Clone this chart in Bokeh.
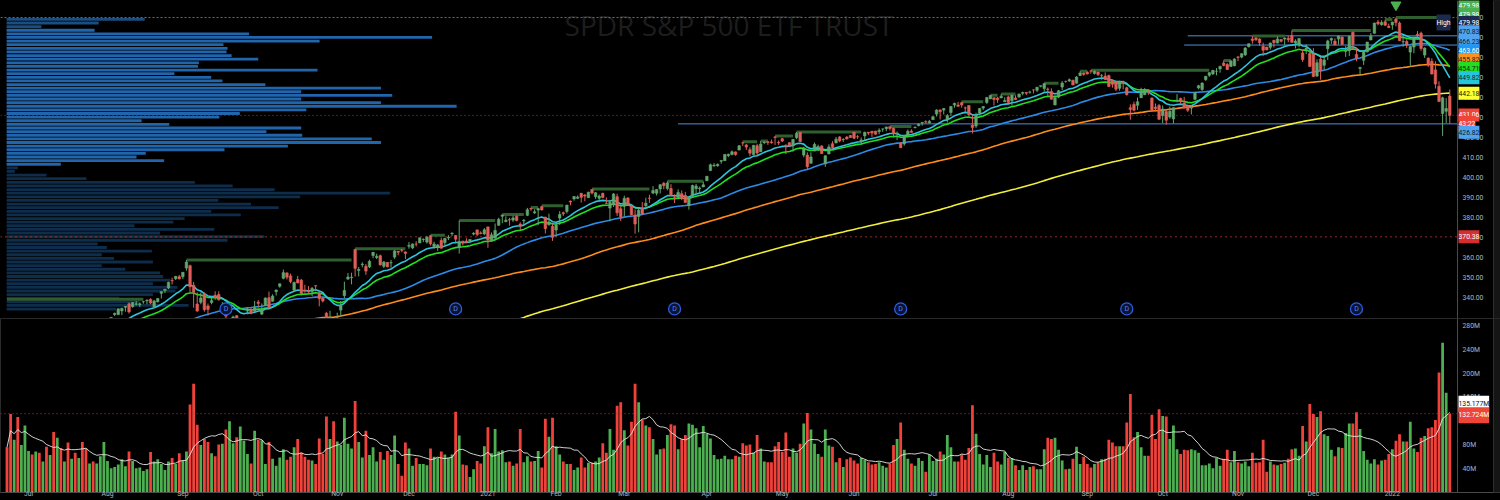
import numpy as np
import pandas as pd
from bokeh.plotting import figure
from bokeh.layouts import column
from bokeh.models import Range1d, FixedTicker, Label, Span, BoxAnnotation
from bokeh.core.properties import value
from bokeh.embed import file_html
from bokeh.resources import INLINE

# ---------------- DATA ----------------
title = "SPDR S&P 500 ETF TRUST"
first_day = "2020-06-23"
last_day = "2022-01-26"
holidays = ["2020-07-03", "2020-09-07", "2020-11-26", "2020-12-25", "2021-01-01", "2021-01-18",
            "2021-02-15", "2021-04-02", "2021-05-31", "2021-07-05", "2021-09-06", "2021-11-25",
            "2021-12-24", "2022-01-17"]
month_labels = ["Jul", "Aug", "Sep", "Oct", "Nov", "Dec", "2021", "Feb", "Mar", "Apr", "May", "Jun",
                "Jul", "Aug", "Sep", "Oct", "Nov", "Dec", "2022"]

# closes before the visible window (Apr 1 - Jun 22 2020), used only to warm up the averages
hist_closes = [246.2, 251.8, 248.2, 264.9, 265.1, 274.0, 278.2, 275.7, 283.8, 277.8, 279.1, 286.6, 281.6, 273.0, 279.1, 279.1, 283.0, 287.1, 285.7, 293.2, 290.5,
               282.8, 283.6, 286.2, 284.3, 287.7, 292.4, 292.5, 286.7, 281.6, 285.0, 286.3, 295.0, 292.0, 296.9, 294.9, 295.4, 299.1, 303.5, 303.0, 304.3,
               305.6, 308.4, 312.2, 311.4, 319.3, 323.2, 320.8, 319.0, 300.6, 304.2, 307.1, 313.0, 311.7, 311.8, 308.6, 310.6]
prior_ath = 339.08

opens = [313.5, 309.8, 303.5, 306.2, 301.4, 304.0,
 309.6, 314.2, 316.4, 315.4, 314.6, 316.8, 314.3, 320.1, 313.3, 322.4, 319.8, 321.9, 321.4, 326.4, 324.6, 326.5, 320.9, 321.6, 322.4, 322.1, 321.9, 325.9,
 328.3, 327.9, 331.5, 331.5, 333.3, 335.1, 336.9, 335.4, 336.6, 336.4, 337.9, 338.3, 339.1, 335.4, 337.9, 342.1, 343.5, 344.8, 348.5, 349.4, 350.4,
 350.4, 354.7, 355.9, 346.1, 336.7, 337.6, 341.8, 335.8, 337.5, 341.1, 341.5, 333.6, 335.4, 325.7, 328.6, 330.9, 321.2, 322.6, 333.2, 334.0, 333.1,
 337.7, 331.7, 336.1, 339.9, 338.1, 342.9, 345.6, 349.6, 352.3, 350.8, 343.7, 349.0, 348.7, 343.5, 343.3, 343.0, 345.9, 342.1, 339.8, 332.1, 326.9, 328.3,
 330.2, 333.7, 340.9, 349.2, 349.9, 364.0, 353.5, 356.4, 355.6, 355.3, 361.0, 360.0, 360.9, 355.6, 357.5, 357.3, 360.2, 363.1, 363.8, 362.8,
 365.6, 364.8, 366.7, 367.3, 369.0, 367.7, 370.9, 365.4, 364.9, 368.6, 367.4, 369.8, 371.9, 371.0, 365.0, 368.2, 368.3, 368.1, 371.7, 373.8, 372.3, 371.8,
 375.3, 368.1, 369.7, 376.1, 380.6, 377.9, 378.9, 378.7, 380.6, 376.7, 378.3, 381.1, 384.5, 382.3, 383.7, 385.4, 380.2, 376.4, 375.6,
 373.7, 379.7, 382.4, 383.0, 388.2, 389.3, 389.6, 392.1, 391.2, 389.9, 394.0, 390.4, 389.6, 392.1, 387.1, 384.7, 386.3, 390.4, 384.4,
 385.6, 389.8, 385.8, 381.2, 380.5, 384.7, 385.9, 389.7, 392.2, 392.1, 394.3, 397.1, 394.5, 394.5, 389.9, 390.0, 391.9, 391.0, 386.0, 390.9, 394.4, 394.4, 395.3,
 398.4, 403.5, 405.8, 405.9, 408.1, 408.4, 410.9, 411.5, 412.8, 413.7, 417.3, 416.3, 413.9, 411.5, 415.9, 412.9, 417.4, 417.9, 417.8, 420.3, 417.6,
 419.4, 416.1, 417.4, 415.8, 419.9, 422.5, 411.2, 411.2, 407.1, 413.2, 415.4, 415.8, 406.9, 411.8, 416.9, 417.3, 420.3, 418.9, 420.2, 421.0,
 422.6, 420.4, 417.9, 420.8, 422.6, 423.1, 423.2, 423.0, 424.2, 424.4, 425.4, 424.6, 421.7, 417.1, 416.8, 420.9, 423.2, 424.9, 425.9, 427.2, 427.9, 427.2,
 428.9, 431.7, 433.8, 433.7, 428.8, 432.5, 436.2, 436.2, 437.4, 434.8, 436.0, 426.2, 425.7, 432.3, 434.7, 437.5, 439.3, 439.9, 439.7, 439.8, 437.9,
 440.3, 438.4, 439.8, 440.2, 442.1, 442.5, 442.6, 443.8, 443.6, 445.6, 444.5, 444.2, 443.0, 436.3, 440.2, 445.2, 448.0, 448.2, 448.6, 447.1, 451.0, 452.1,
 452.6, 453.3, 452.0, 452.7, 450.9, 450.7, 451.0, 448.6, 448.1, 444.6, 447.3, 444.9, 434.9, 436.5, 436.1, 439.9, 441.4, 442.8, 439.7, 435.2, 436.0,
 431.0, 433.0, 430.2, 429.3, 438.4, 439.5, 437.2, 435.7, 434.7, 439.1, 444.8, 444.0, 448.9, 451.1, 451.8, 453.1, 454.3, 457.2, 456.5, 455.5, 455.9,
 460.3, 460.2, 461.3, 465.4, 469.3, 469.7, 469.3, 465.6, 465.2, 465.1, 468.6, 467.2, 469.0, 469.2, 469.6, 470.9, 467.2, 466.1, 462.3, 464.1, 462.0,
 461.6, 450.7, 459.2, 456.1, 464.4, 468.7, 468.2, 469.2, 470.2, 463.1, 463.4, 472.6, 461.5, 454.5, 458.6, 462.8, 468.8, 472.1, 477.7, 476.4, 477.9, 475.6,
 476.3, 479.2, 477.2, 467.9, 468.0, 462.7, 465.2, 471.6, 472.2, 461.2, 459.7, 458.1, 453.8, 445.6, 432.0, 433.1, 440.7]

highs = [314.5, 311.0, 307.6, 306.4, 304.6, 310.2,
 311.9, 315.7, 317.7, 317.1, 316.5, 317.1, 317.9, 322.7, 319.8, 323.0, 321.3, 322.6, 325.1, 326.9, 327.2, 327.2, 321.9, 323.4, 323.6, 325.7, 324.4, 326.6,
 329.6, 330.1, 332.4, 334.5, 334.9, 335.8, 337.5, 337.7, 338.3, 337.4, 338.3, 339.1, 339.6, 338.8, 339.7, 343.0, 344.2, 347.9, 349.9, 350.7, 351.3,
 352.7, 358.75, 356.4, 347.8, 342.6, 342.5, 342.5, 337.0, 340.4, 343.1, 343.1, 337.7, 335.5, 327.1, 330.9, 331.2, 326.8, 329.6, 335.0, 334.8, 338.3,
 338.7, 337.0, 340.0, 343.0, 341.6, 343.9, 347.0, 354.0, 352.5, 351.9, 348.0, 350.8, 349.3, 346.4, 345.7, 345.2, 346.0, 343.0, 340.1, 332.8, 333.4, 329.7,
 332.4, 338.3, 347.9, 352.2, 352.4, 364.4, 355.2, 357.6, 356.7, 358.9, 362.8, 361.9, 361.5, 358.2, 357.7, 358.8, 363.8, 363.2, 364.2, 363.1,
 367.7, 367.0, 368.2, 369.9, 369.6, 370.8, 371.1, 367.9, 366.7, 369.8, 369.6, 371.2, 372.5, 371.2, 378.5, 368.3, 369.6, 369.0, 372.6, 374.0, 373.1, 374.7,
 375.5, 372.5, 377.0, 379.9, 381.5, 380.6, 379.9, 380.9, 381.1, 377.6, 379.2, 384.8, 385.0, 384.1, 384.8, 385.9, 380.3, 381.9, 376.7,
 377.3, 383.2, 382.9, 386.2, 388.5, 390.6, 391.0, 392.3, 391.7, 392.9, 394.2, 392.7, 391.5, 392.4, 390.1, 388.8, 392.2, 391.9, 385.6,
 390.9, 390.1, 386.8, 384.0, 384.8, 387.7, 389.9, 391.4, 395.7, 394.2, 396.7, 397.8, 398.1, 396.7, 391.6, 394.1, 393.5, 392.8, 390.5, 396.4, 396.8, 395.5, 398.0,
 400.7, 406.9, 407.2, 407.0, 408.6, 411.7, 411.9, 413.5, 413.0, 416.2, 417.9, 416.7, 415.1, 416.3, 416.8, 418.3, 418.2, 418.1, 419.0, 420.7, 418.5,
 419.8, 416.6, 417.6, 419.2, 422.8, 422.7, 415.3, 412.6, 412.6, 417.5, 416.4, 416.1, 411.1, 416.6, 418.2, 420.3, 420.7, 419.6, 420.7, 421.3,
 422.7, 421.2, 420.0, 422.9, 422.8, 423.2, 423.3, 424.6, 424.4, 425.4, 425.5, 424.9, 423.0, 417.8, 421.1, 424.0, 424.1, 425.6, 427.1, 427.7, 428.6, 428.8,
 430.6, 434.1, 434.0, 434.8, 431.7, 435.8, 437.4, 437.8, 437.9, 435.5, 436.1, 431.4, 432.4, 434.7, 435.7, 440.3, 441.1, 439.9, 440.3, 441.8, 440.1,
 440.9, 441.3, 441.1, 441.9, 442.9, 442.8, 443.4, 443.9, 445.3, 445.9, 447.1, 445.0, 444.6, 441.1, 443.7, 448.2, 448.5, 449.5, 448.9, 450.7, 453.1, 452.5,
 453.1, 453.6, 453.6, 452.8, 451.7, 452.6, 451.4, 448.9, 448.3, 448.4, 448.4, 445.4, 436.6, 437.9, 440.0, 444.9, 444.7, 444.1, 440.0, 437.0, 436.8,
 436.0, 434.0, 435.5, 435.1, 441.7, 439.9, 440.3, 436.1, 436.1, 442.7, 446.3, 447.6, 450.7, 452.7, 453.8, 454.7, 455.9, 458.5, 457.2, 458.4, 459.6,
 460.7, 462.2, 465.2, 467.0, 470.7, 470.2, 469.6, 467.4, 465.3, 467.4, 468.8, 470.5, 469.2, 470.0, 470.9, 473.5, 469.1, 469.6, 463.9, 466.6, 464.0,
 464.7, 459.1, 460.3, 460.8, 468.9, 470.0, 469.6, 470.9, 470.6, 465.7, 470.9, 472.9, 464.7, 455.4, 463.2, 467.8, 472.2, 477.3, 478.8, 478.6, 479.0, 476.9,
 477.9, 479.98, 478.0, 470.8, 469.2, 465.7, 469.9, 473.2, 472.9, 465.1, 460.0, 459.6, 458.1, 448.1, 440.4, 439.7, 444.0]

lows = [311.6, 302.7, 301.0, 299.4, 298.9, 303.8,
 309.1, 311.5, 315.0, 313.6, 313.0, 310.7, 312.8, 314.1, 312.0, 319.5, 319.1, 319.9, 320.6, 323.9, 324.5, 321.5, 319.2, 320.8, 320.9, 322.1, 319.8, 319.6,
 327.7, 327.9, 330.7, 331.1, 331.2, 332.9, 332.0, 334.9, 335.9, 335.2, 336.9, 336.6, 336.6, 335.2, 337.5, 339.5, 342.3, 344.2, 346.5, 348.7, 349.1,
 349.2, 353.4, 342.6, 334.9, 332.9, 336.6, 332.9, 331.0, 336.6, 338.8, 338.5, 333.0, 328.0, 321.7, 325.4, 322.1, 319.8, 321.6, 331.6, 331.6, 332.9,
 335.0, 331.2, 336.0, 334.4, 338.1, 341.0, 344.9, 349.1, 349.0, 347.1, 343.1, 347.1, 341.0, 342.4, 342.4, 340.6, 343.1, 335.6, 337.5, 326.1, 325.1, 322.6,
 327.2, 330.3, 339.6, 348.9, 346.6, 350.5, 350.5, 355.1, 351.3, 354.7, 359.6, 359.2, 356.1, 354.7, 355.1, 354.9, 359.3, 361.1, 362.6, 359.2,
 364.4, 364.2, 365.5, 367.2, 367.7, 367.0, 366.0, 364.4, 363.3, 364.5, 365.9, 368.7, 370.8, 367.0, 362.0, 366.0, 367.2, 367.5, 371.1, 370.8, 371.6, 371.2,
 364.8, 368.1, 369.1, 375.9, 377.1, 377.7, 375.9, 377.8, 378.1, 373.7, 376.0, 380.7, 383.3, 381.8, 376.2, 383.5, 372.0, 375.9, 368.3,
 370.4, 376.3, 380.8, 382.0, 386.1, 388.4, 389.2, 387.5, 388.1, 389.8, 391.5, 389.3, 387.7, 389.6, 386.9, 378.2, 385.3, 380.8, 378.2,
 380.6, 386.0, 381.3, 371.9, 372.6, 381.4, 385.3, 387.3, 391.7, 391.0, 392.0, 394.1, 393.6, 390.8, 387.2, 390.0, 388.7, 387.5, 383.9, 390.3, 391.9, 392.3, 395.2,
 398.2, 403.2, 405.4, 405.4, 406.9, 408.3, 410.2, 411.1, 410.9, 413.7, 415.7, 413.8, 410.6, 411.4, 411.1, 412.8, 416.8, 416.3, 416.9, 416.3, 416.3,
 417.7, 411.7, 415.2, 412.9, 419.2, 417.8, 410.1, 404.0, 407.0, 413.2, 413.4, 411.8, 405.3, 411.7, 414.5, 417.1, 417.6, 417.8, 419.0, 419.8,
 419.2, 419.3, 416.3, 418.8, 421.2, 420.3, 421.4, 421.6, 422.8, 423.1, 423.5, 419.9, 418.7, 414.7, 415.9, 419.9, 422.5, 424.6, 425.6, 425.9, 427.0, 427.2,
 428.8, 430.5, 429.0, 431.5, 427.5, 430.7, 434.9, 435.3, 434.9, 432.7, 430.9, 422.0, 424.8, 431.0, 433.7, 436.8, 439.3, 436.0, 437.3, 439.8, 437.8,
 437.2, 436.1, 438.7, 439.9, 441.1, 441.3, 441.9, 442.0, 442.7, 445.1, 442.9, 440.9, 438.9, 436.1, 439.7, 443.7, 447.4, 447.8, 446.2, 447.1, 450.7, 450.9,
 451.5, 451.9, 451.5, 450.7, 448.9, 448.7, 445.3, 444.9, 443.2, 443.4, 444.1, 441.0, 428.9, 433.1, 433.8, 439.7, 441.2, 441.2, 433.4, 433.0, 428.8,
 427.2, 426.4, 429.4, 427.1, 437.6, 437.2, 434.5, 432.8, 431.5, 438.6, 444.1, 443.3, 448.3, 450.3, 451.3, 451.1, 452.4, 455.6, 453.8, 455.4, 455.6,
 458.2, 459.6, 460.8, 465.0, 466.9, 468.2, 465.9, 460.7, 463.7, 463.9, 465.0, 467.1, 467.5, 466.3, 467.6, 467.4, 464.5, 465.2, 457.8, 461.7, 455.3,
 450.3, 450.3, 448.9, 453.6, 458.7, 466.8, 466.1, 466.5, 466.3, 460.3, 460.7, 464.0, 458.1, 451.1, 456.3, 462.6, 468.6, 472.0, 476.1, 475.9, 475.7, 474.7,
 473.9, 475.6, 468.3, 465.4, 464.7, 455.3, 462.1, 468.9, 463.4, 459.8, 455.3, 451.5, 444.5, 438.0, 420.8, 427.2, 426.8]

closes = [312.05, 304.09, 307.35, 300.05, 304.46, 308.36,
 310.52, 312.23, 317.05, 313.78, 316.18, 314.38, 317.59, 314.84, 318.92, 321.85, 320.79, 321.72, 324.32, 325.01, 326.86, 322.96, 320.88, 323.22, 321.17, 325.12, 323.96, 326.52,
 328.79, 330.06, 332.11, 334.33, 334.57, 335.57, 332.80, 337.44, 336.83, 336.84, 337.91, 338.64, 337.23, 338.28, 339.48, 342.92, 344.12, 347.57, 348.33, 350.58, 349.31,
 352.60, 357.70, 345.39, 342.57, 333.21, 339.79, 333.89, 334.06, 338.46, 340.17, 338.82, 335.84, 330.65, 326.97, 330.30, 322.64, 323.50, 328.73, 334.19, 332.37, 334.89,
 337.04, 333.84, 339.76, 334.93, 340.76, 343.78, 346.85, 352.43, 350.13, 347.93, 347.50, 347.29, 342.01, 343.38, 342.73, 344.61, 345.78, 339.39, 338.22, 326.66, 329.98, 326.54,
 330.20, 336.03, 343.54, 350.24, 350.16, 354.56, 354.04, 356.67, 353.21, 358.10, 362.57, 360.62, 356.28, 357.78, 355.33, 357.46, 363.22, 362.66, 363.67, 362.06,
 366.02, 366.79, 366.69, 369.85, 369.09, 370.17, 366.85, 366.73, 366.30, 364.66, 369.59, 370.17, 372.24, 369.18, 367.86, 367.24, 367.57, 369.00, 372.17, 371.46, 371.99, 373.88,
 368.79, 371.33, 373.55, 379.10, 381.26, 378.69, 378.77, 379.79, 378.46, 375.70, 378.65, 383.89, 384.24, 382.88, 384.39, 383.79, 374.41, 377.63, 370.07,
 376.23, 381.55, 381.85, 386.19, 387.71, 390.51, 390.25, 390.08, 390.71, 392.64, 392.30, 392.39, 390.72, 390.03, 387.03, 387.50, 391.77, 382.33, 380.36,
 389.58, 386.54, 381.42, 376.70, 383.63, 381.72, 387.17, 389.58, 393.53, 394.06, 396.41, 395.91, 397.26, 391.48, 389.48, 392.59, 389.50, 387.52, 389.70, 395.98, 395.78, 394.73, 396.33,
 400.61, 406.36, 406.12, 406.59, 408.52, 411.49, 411.64, 412.86, 411.45, 415.87, 417.26, 415.21, 412.17, 416.07, 412.27, 416.74, 417.61, 417.52, 417.40, 420.06, 417.30,
 418.20, 415.62, 415.75, 419.07, 422.12, 417.94, 414.21, 405.41, 410.28, 416.58, 415.52, 411.94, 410.86, 415.28, 414.94, 419.17, 418.24, 419.07, 419.29, 420.04,
 419.67, 420.33, 418.77, 422.60, 422.19, 422.28, 421.65, 423.61, 424.31, 425.26, 424.48, 422.11, 421.97, 414.92, 420.86, 423.11, 422.60, 425.10, 426.61, 427.47, 427.70, 428.06,
 430.43, 433.72, 432.93, 434.46, 430.92, 435.52, 437.08, 435.59, 436.24, 434.75, 431.34, 424.97, 431.06, 434.55, 435.46, 439.94, 441.02, 439.01, 438.83, 440.65, 438.51,
 437.59, 441.15, 438.98, 441.76, 442.49, 442.13, 442.68, 443.78, 445.11, 445.92, 446.97, 444.04, 439.18, 439.86, 443.36, 447.26, 447.97, 448.91, 446.26, 450.25, 452.23, 451.56,
 451.80, 453.19, 453.08, 451.46, 450.91, 448.98, 445.44, 446.58, 444.17, 447.88, 447.17, 441.40, 434.04, 433.63, 437.86, 443.18, 443.91, 442.64, 433.72, 434.45, 429.14,
 434.24, 428.64, 433.10, 434.90, 438.66, 437.86, 434.69, 433.62, 435.18, 442.50, 445.87, 447.19, 450.64, 452.41, 453.59, 453.12, 455.55, 455.96, 453.94, 458.32, 459.25,
 460.04, 461.90, 464.72, 466.91, 468.53, 468.93, 467.38, 463.62, 463.77, 467.27, 467.43, 469.28, 468.14, 469.73, 468.89, 467.57, 468.19, 469.44, 458.97, 464.60, 455.56,
 450.50, 457.40, 453.42, 458.79, 468.28, 469.52, 466.35, 470.74, 466.57, 463.36, 470.60, 466.45, 459.87, 454.98, 463.06, 467.69, 470.60, 477.26, 476.87, 477.48, 476.16, 474.96,
 477.71, 477.55, 468.38, 467.94, 466.09, 465.51, 469.75, 471.02, 464.53, 464.72, 456.49, 451.75, 446.75, 437.98, 439.84, 434.47, 431.06]

volumes_m = [76, 132, 89, 127, 80, 113,
 70, 64, 69, 67, 52, 77, 63, 102, 92, 75, 52, 84, 57, 67, 58, 85, 74, 49, 52, 49, 61, 85,
 53, 41, 43, 47, 56, 44, 69, 53, 41, 42, 36, 39, 68, 52, 56, 48, 38, 52, 58, 48, 66,
 54, 69, 148, 183, 114, 80, 90, 85, 66, 61, 81, 82, 106, 120, 83, 93, 111, 87, 65, 49, 104,
 89, 88, 48, 85, 57, 45, 59, 73, 55, 60, 76, 90, 67, 60, 55, 54, 48, 91, 65, 128, 90, 120,
 86, 80, 126, 82, 74, 154, 85, 59, 104, 63, 76, 52, 68, 55, 70, 63, 96, 48, 28, 84,
 74, 45, 58, 48, 48, 46, 74, 60, 58, 69, 64, 58, 64, 136, 96, 47, 46, 26, 39, 53, 49, 78,
 110, 66, 107, 69, 71, 51, 52, 45, 49, 107, 51, 61, 52, 53, 70, 42, 124, 94, 126,
 78, 64, 52, 48, 48, 38, 42, 59, 42, 50, 50, 52, 59, 83, 67, 107, 72, 146, 152,
 105, 79, 119, 183, 152, 123, 113, 110, 90, 64, 73, 74, 97, 115, 113, 73, 90, 97, 116, 114, 108, 76, 112,
 99, 91, 63, 56, 57, 62, 56, 56, 62, 60, 83, 79, 81, 67, 97, 74, 52, 51, 51, 78, 85,
 68, 101, 60, 74, 67, 82, 116, 134, 106, 82, 65, 60, 106, 79, 77, 51, 58, 43, 56, 59,
 54, 49, 58, 55, 51, 47, 48, 51, 45, 42, 49, 80, 90, 118, 72, 57, 49, 45, 58, 53, 35, 64,
 53, 57, 69, 64, 97, 76, 52, 52, 64, 55, 75, 147, 99, 65, 47, 63, 43, 67, 52, 47, 68,
 58, 58, 46, 38, 46, 38, 43, 44, 39, 39, 73, 92, 90, 92, 72, 54, 39, 40, 57, 77, 48, 60,
 48, 42, 48, 51, 56, 57, 89, 84, 78, 78, 78, 118, 166, 93, 102, 76, 62, 62, 131, 90, 140,
 129, 128, 90, 113, 73, 65, 72, 71, 73, 71, 67, 46, 46, 49, 41, 58, 45, 57, 72, 51, 70,
 51, 49, 52, 44, 67, 50, 51, 89, 35, 52, 47, 46, 48, 50, 57, 73, 74, 62, 112, 86, 149,
 132, 127, 137, 98, 95, 72, 61, 76, 75, 100, 116, 116, 135, 107, 70, 55, 49, 56, 47, 54, 55, 65,
 73, 87, 98, 86, 86, 119, 74, 68, 92, 95, 108, 110, 122, 202, 252, 168, 133]

# visible-range volume profile (relative volume per price row, top row first)
vp_volume = [135, 90, 34, 86, 237, 416, 306, 212, 216, 215, 220, 246, 188, 187, 304, 164, 200, 211, 253, 366,
             288, 377, 288, 366, 440, 293, 228, 208, 132, 159, 288, 254, 289, 357, 366, 275, 213, 136, 127, 154, 53,
             11, 8, 39, 78, 184, 221, 262, 375, 287, 207, 239, 266, 200, 229, 174, 163, 125, 203, 150, 252,
             216, 89, 98, 142, 93, 105, 143, 93, 116, 150, 153, 160, 143, 167, 165, 143, 110, 130, 178, 107]
vp_rows = 100
vp_value_area_rows = 41

dividend_dates = ["2020-09-18", "2020-12-18", "2021-03-19", "2021-06-18", "2021-09-17", "2021-12-17"]

# drawn horizontal levels: price, first date
level_prices = [470.83, 466.23, 426.82]
level_dates = ["2021-10-12", "2021-10-11", "2021-03-22"]
red_level = 370.38
last_price = 431.06
countdown = "43:22"

# right-axis tag values
tag_ath = 479.98
tag_sma50, tag_sma100, tag_ema21, tag_ema13, tag_sma200 = 463.60, 455.82, 454.71, 449.82, 442.18
vol_ma_tag = 135.177
vol_last_tag = 132.724

price_ticks = [340, 350, 360, 370, 380, 390, 400, 410, 420, 430, 440, 450, 460, 470, 480]
vol_ticks = [40, 80, 120, 160, 200, 240, 280]

# ---------------- PREP ----------------
dates = pd.bdate_range(first_day, last_day, freq="C", holidays=holidays)
o, h, l, c = map(np.array, (opens, highs, lows, closes))
v = np.array(volumes_m, dtype=float)
n = len(closes)
assert len(dates) == n == len(opens) == len(highs) == len(lows) == len(volumes_m), \
    (len(dates), len(opens), len(highs), len(lows), len(closes), len(volumes_m))
idx = np.arange(n)

months = dates.month
month_idx = [i for i in range(1, n) if months[i] != months[i - 1]]
assert len(month_idx) == len(month_labels), (len(month_idx), len(month_labels))

allc = pd.Series(hist_closes + closes)
k = len(hist_closes)
ema13 = allc.ewm(span=13, adjust=False).mean().values[k:]
ema21 = allc.ewm(span=21, adjust=False).mean().values[k:]
sma50 = allc.rolling(50).mean().values[k:]
sma100 = allc.rolling(100).mean().values[k:]
sma200 = allc.rolling(200).mean().values[k:]
vol_ma = pd.Series(v).rolling(10, min_periods=1).mean().values

UP, DN = "#63a66f", "#df5f58"
VUP, VDN = "#4caf50", "#f0413a"
is_up = c >= o
ccol = [UP if u else DN for u in is_up]
vcol = [VUP if u else VDN for u in is_up]

# running all-time-high steps
seg_x0, seg_x1, seg_y = [], [], []
cur, start = prior_ath, 0
for i in range(n):
    if h[i] > cur:
        if i - 1 - start >= 2:
            seg_x0.append(start); seg_x1.append(i - 1); seg_y.append(cur)
        cur, start = h[i], i
seg_x0.append(start); seg_x1.append(n - 1); seg_y.append(cur)

# ---------------- LAYOUT HELPERS ----------------
BG = "#000000"
AX = "#b2b5be"
FONT = "Roboto"
W = 1500
PX_PER_BAR = 3.589
AXIS_PX = 1457          # price-scale column starts here
STRIP_PX = 1493
x0 = -6.5 / PX_PER_BAR
x_range = Range1d(x0, x0 + W / PX_PER_BAR)


def xd(px):
    return x0 + px / PX_PER_BAR


axis_x = xd(AXIS_PX)
y_lo, y_hi = 329.5, 488.5


def tag(fig, y, text, bg, fg, dy=0, px=AXIS_PX + 1):
    fig.add_layout(Label(x=xd(px), y=y, text=text, y_offset=dy,
                         text_font=FONT, text_font_size="6.8px", text_color=fg,
                         text_align="left", text_baseline="middle",
                         background_fill_color=bg, padding=(0, 4)))


def scale_column(fig, ticks, labels):
    fig.text(x=[xd(AXIS_PX + 5)] * len(ticks), y=ticks, text=labels,
             text_font=value(FONT), text_font_size=value("6.8px"), text_color=AX,
             text_align="left", text_baseline="middle")
    fig.add_layout(Span(location=axis_x, dimension="height", line_color="#4a4a4a", line_width=1))
    fig.add_layout(BoxAnnotation(left=xd(STRIP_PX), fill_color="#151515", fill_alpha=1,
                                 line_color="#2e2e2e", line_alpha=1))


# ---------------- PRICE PANE ----------------
p1 = figure(width=W, height=318, x_range=x_range, y_range=Range1d(y_lo, y_hi),
            output_backend="svg", toolbar_location=None, x_axis_location=None,
            y_axis_location=None, background_fill_color=BG, border_fill_color=BG,
            min_border_left=0, min_border_right=0, min_border_top=0, min_border_bottom=0)
p1.grid.visible = False
p1.outline_line_color = None

# volume profile
p1.extra_x_ranges = {"vp": Range1d(-6, max(vp_volume) / 0.30 - 6)}
vp_hi, vp_lo = h.max(), l.min()
vp_step = (vp_hi - vp_lo) / vp_rows
vp_y = vp_hi - (np.arange(len(vp_volume)) + 0.5) * vp_step
vp_col = []
for i in range(len(vp_volume)):
    if i < 3:
        vp_col.append("#1b4d80")
    elif i < vp_value_area_rows:
        vp_col.append("#2166ad")
    else:
        vp_col.append("#0e2d4b")
p1.hbar(y=vp_y, left=0, right=vp_volume, height=vp_step * 0.78, fill_color=vp_col,
        line_color=None, x_range_name="vp")

# watermark, centred over the bar area
p1.text(x=[(x_range.start + axis_x) / 2], y=[y_hi - 12], text=[title],
        text_font=value("Open Sans"), text_font_size=value("28px"), text_color="#1d1d1d",
        text_align="center", text_baseline="middle")

# dotted lines across the bar area
p1.segment(x0=[x_range.start], x1=[axis_x], y0=[tag_ath], y1=[tag_ath],
           line_color="#5d7a5d", line_dash="2 2", line_width=1)
p1.segment(x0=[x_range.start], x1=[axis_x], y0=[red_level], y1=[red_level],
           line_color="#c0392b", line_dash="1 4", line_width=1.5)
p1.segment(x0=[x_range.start], x1=[axis_x], y0=[last_price], y1=[last_price],
           line_color="#b03a30", line_dash="1 3", line_width=1)

# drawn levels
lvl_x = [int(dates.get_loc(pd.Timestamp(d))) for d in level_dates]
p1.segment(x0=lvl_x, x1=[axis_x] * len(lvl_x), y0=level_prices, y1=level_prices,
           line_color="#4a8fe0", line_width=1)

# moving averages
p1.line(idx, sma200, line_color="#f2ee3a", line_width=1.6)
p1.line(idx, sma100, line_color="#ff8c1a", line_width=1.6)
p1.line(idx, sma50, line_color="#2b8be6", line_width=1.6)
p1.line(idx, ema21, line_color="#1fe01f", line_width=1.6)
p1.line(idx, ema13, line_color="#2ec4de", line_width=1.6)

# ATH step lines
p1.segment(x0=seg_x0, y0=seg_y, x1=seg_x1, y1=seg_y, line_color="#2f5f2f", line_width=3)

# candles
p1.segment(x0=idx, y0=l, x1=idx, y1=h, line_color=ccol, line_width=1)
p1.vbar(x=idx, width=0.7, top=np.maximum(o, c), bottom=np.minimum(o, c),
        fill_color=ccol, line_color=ccol, line_width=0.6)

# dividends
div_x = [int(dates.get_loc(pd.Timestamp(d))) for d in dividend_dates]
div_y = [y_lo + 4.8] * len(div_x)
p1.scatter(x=div_x, y=div_y, marker="circle", size=12, fill_color="#0a1433",
           line_color="#2f5de0", line_width=1.3)
p1.text(x=div_x, y=div_y, text=["D"] * len(div_x), text_font=value(FONT),
        text_font_size=value("7px"), text_color="#5a82f0", text_align="center", text_baseline="middle")

# ATH arrow
ath_i = int(np.argmax(h))
p1.scatter(x=[ath_i], y=[y_hi - 2.2], marker="inverted_triangle", size=10,
           fill_color="#4caf50", line_color="#4caf50")

# price scale column
scale_column(p1, price_ticks, [f"{t:.2f}" for t in price_ticks])

f2 = lambda val: f"{val:.2f}"
tag(p1, tag_ath, f2(tag_ath), "#4caf50", "#ffffff", dy=12.5)
tag(p1, tag_ath, f2(tag_ath), "#4caf50", "#ffffff", dy=3.5)
tag(p1, tag_ath, "High", "#1b2a4e", "#ffffff", dy=-5, px=1436)
tag(p1, tag_ath, f2(tag_ath), "#1b2a4e", "#ffffff", dy=-5)
tag(p1, level_prices[0], f2(level_prices[0]), "#4fa3f0", "#0b1a33", dy=4)
tag(p1, level_prices[1], f2(level_prices[1]), "#4fa3f0", "#0b1a33", dy=3.5)
tag(p1, tag_sma50, f2(tag_sma50), "#2196f3", "#ffffff", dy=-0.5)
tag(p1, tag_sma100, f2(tag_sma100), "#f7931a", "#1a1a1a", dy=6)
tag(p1, tag_ema21, f2(tag_ema21), "#22dd22", "#0a2a0a", dy=-0.5)
tag(p1, tag_ema13, f2(tag_ema13), "#26c6da", "#0a2a33")
tag(p1, tag_sma200, f2(tag_sma200), "#ffff33", "#1a1a00")
tag(p1, last_price, f2(last_price), "#ef4438", "#ffffff", dy=0.5)
tag(p1, last_price, countdown, "#ef4438", "#ffffff", dy=-8.5)
tag(p1, level_prices[2], f2(level_prices[2]), "#4fa3f0", "#0b1a33", dy=-8.5)
tag(p1, red_level, f2(red_level), "#d32f2f", "#ffffff")

# ---------------- VOLUME PANE ----------------
p2 = figure(width=W, height=182, x_range=x_range, y_range=Range1d(0, 293),
            output_backend="svg", toolbar_location=None, y_axis_location=None,
            background_fill_color=BG, border_fill_color=BG,
            min_border_left=0, min_border_right=0, min_border_top=0, min_border_bottom=0)
p2.grid.visible = False
p2.outline_line_color = "#2a2a2a"
p2.vbar(x=idx, width=0.78, top=v, bottom=0, fill_color=vcol, line_color=None)
p2.line(idx, vol_ma, line_color="#e8e8e8", line_width=0.9)
p2.segment(x0=[x_range.start], x1=[axis_x], y0=[vol_last_tag], y1=[vol_last_tag],
           line_color="#b03a30", line_dash="1 3", line_width=1)
scale_column(p2, vol_ticks, [f"{t}M" for t in vol_ticks])

xa = p2.xaxis[0]
xa.ticker = FixedTicker(ticks=month_idx)
xa.major_label_overrides = {int(i): lab for i, lab in zip(month_idx, month_labels)}
xa.major_label_text_color = AX
xa.major_label_text_font = FONT
xa.major_label_text_font_size = "6.8px"
xa.axis_line_color = "#4a4a4a"
xa.major_tick_line_color = None
xa.minor_tick_line_color = None
xa.major_tick_out = 0
xa.major_tick_in = 0
xa.major_label_standoff = -3

tag(p2, vol_ma_tag, f"{vol_ma_tag:.3f}M", "#ffffff", "#111111", dy=8.5)
tag(p2, vol_last_tag, f"{vol_last_tag:.3f}M", "#ef4438", "#ffffff", dy=-1.5)

layout = column(p1, p2, spacing=0, background=BG)
open("out.html", "w").write(file_html(layout, INLINE))
